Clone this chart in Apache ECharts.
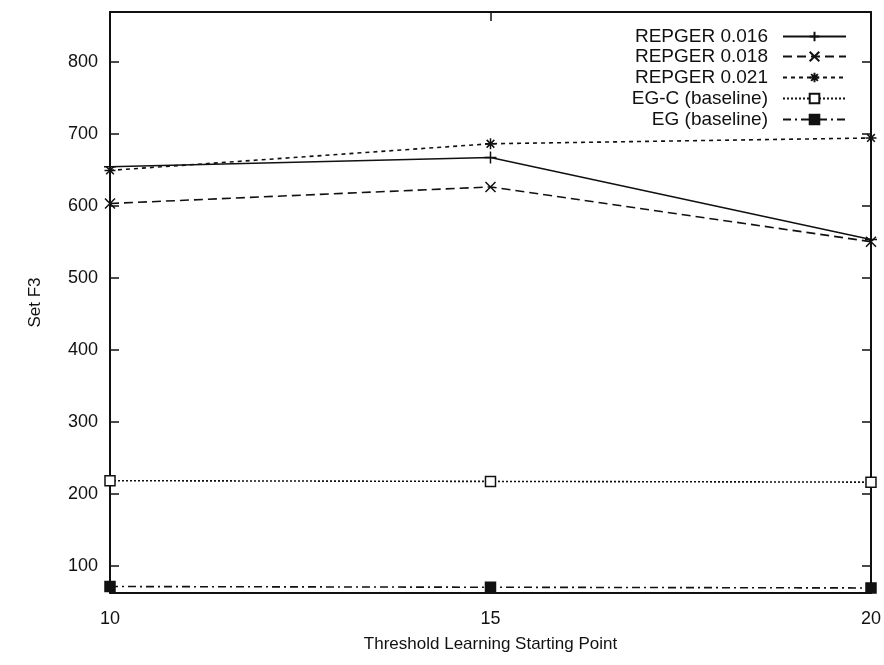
<!DOCTYPE html>
<html>
<head>
<meta charset="utf-8">
<script src="https://cdn.jsdelivr.net/npm/echarts@6/dist/echarts.min.js"></script>
<style>html,body{margin:0;padding:0;background:#fff}#c{width:884px;height:665px}</style>
</head>
<body>
<div id="c"></div>
<script>
const xValues = [10, 15, 20];
const repger016 = [654, 667, 553];
const repger018 = [603, 626, 550];
const repger021 = [649, 686, 694];
const egc = [218, 217, 216];
const eg = [71, 70, 69];
const yTicks = [100, 200, 300, 400, 500, 600, 700, 800];
const xTicks = [10, 15, 20];
const names = ['REPGER 0.016', 'REPGER 0.018', 'REPGER 0.021', 'EG-C (baseline)', 'EG (baseline)'];

const FONT = 'Liberation Sans, Arial, Helvetica, sans-serif';
const INK = '#111';
const pts = arr => arr.map((v, i) => [xValues[i], v]);

const sym = {
  plus: 'path://M5,0 L5,10 M0,5 L10,5',
  cross: 'path://M0,0 L10,10 M10,0 L0,10',
  star: 'path://M5,0 L5,10 M0,5 L10,5 M1.5,1.5 L8.5,8.5 M8.5,1.5 L1.5,8.5'
};

function mk(name, data, lineType, symbol, size, fill) {
  return {
    name, type: 'line', data: pts(data), symbol, symbolSize: size,
    showAllSymbol: true, animation: false,
    lineStyle: { color: INK, width: 1.6, type: lineType },
    itemStyle: { color: fill, borderColor: INK, borderWidth: 1.5 },
    emphasis: { disabled: true }
  };
}

const series = [
  mk(names[0], repger016, 'solid', sym.plus, 12, INK),
  mk(names[1], repger018, [9, 5], sym.cross, 10, INK),
  mk(names[2], repger021, [4, 4], sym.star, 11, INK),
  mk(names[3], egc, [2, 2], 'rect', 10, '#fff'),
  mk(names[4], eg, [8, 4, 2, 4], 'rect', 10, INK)
];

const legendTops = [22, 42, 63, 84, 105];
const legends = names.map((n, i) => ({
  data: [n], right: 32, top: legendTops[i], orient: 'vertical', align: 'right',
  itemWidth: 63, itemHeight: 12, selectedMode: false,
  textStyle: { fontFamily: FONT, fontSize: 19, color: INK, padding: [0, 10, 0, 0] }
}));

const axisLine = { show: true, lineStyle: { color: INK, width: 2 } };
const tickIn = (vals) => ({ show: true, inside: true, length: 9, lineStyle: { color: INK, width: 1.5 }, customValues: vals });

const option = {
  backgroundColor: '#fff',
  animation: false,
  legend: legends,
  grid: { left: 110, right: 12, top: 12, bottom: 72 },
  xAxis: [
    {
      type: 'value', min: 10, max: 20, interval: 5, position: 'bottom',
      name: 'Threshold Learning Starting Point', nameLocation: 'middle', nameGap: 43,
      nameTextStyle: { fontFamily: FONT, fontSize: 17, color: INK },
      axisLine, axisTick: tickIn(xTicks), splitLine: { show: false },
      axisLabel: { fontFamily: FONT, fontSize: 18, color: INK, margin: 17, customValues: xTicks }
    },
    {
      type: 'value', min: 10, max: 20, interval: 5, position: 'top',
      axisLine, axisTick: tickIn(xTicks), axisLabel: { show: false }, splitLine: { show: false }
    }
  ],
  yAxis: [
    {
      type: 'value', min: 62, max: 869, position: 'left',
      name: 'Set F3', nameLocation: 'middle', nameGap: 66, nameRotate: 90,
      nameTextStyle: { fontFamily: FONT, fontSize: 17, color: INK },
      axisLine, axisTick: tickIn(yTicks), splitLine: { show: false },
      axisLabel: { fontFamily: FONT, fontSize: 18, color: INK, margin: 12, customValues: yTicks }
    },
    {
      type: 'value', min: 62, max: 869, position: 'right',
      axisLine, axisTick: tickIn(yTicks), axisLabel: { show: false }, splitLine: { show: false }
    }
  ],
  series
};

const chart = echarts.init(document.getElementById('c'), null, { renderer: 'canvas' });
chart.setOption(option);
</script>
</body>
</html>
